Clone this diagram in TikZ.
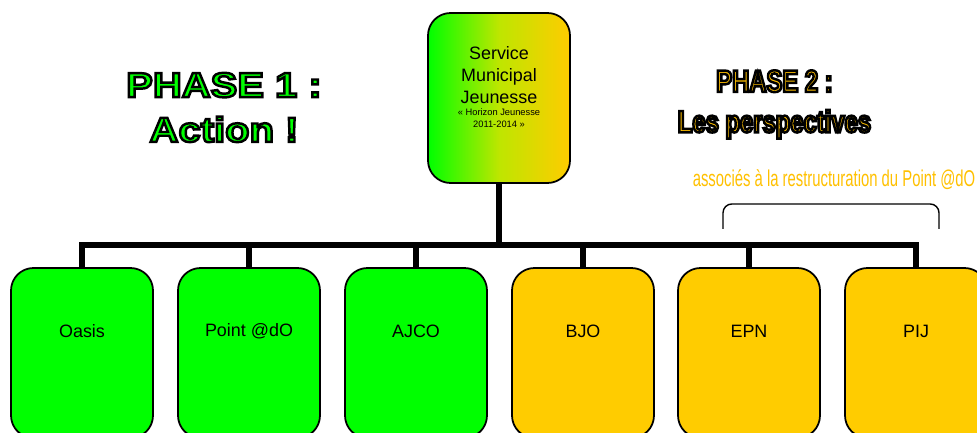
\documentclass[tikz,border=0pt]{standalone}
\usepackage{fontspec}
\usetikzlibrary{positioning}
\setmainfont{Liberation Sans}
\newfontfamily\phaseonefont[FakeStretch=1.15]{Liberation Sans}
\newfontfamily\phasetwofont[FakeStretch=0.77]{Liberation Sans}
\newfontfamily\narrowfont[FakeStretch=0.65]{Liberation Sans}
\definecolor{vert}{RGB}{0,255,0}
\definecolor{jaune}{RGB}{255,204,0}
\definecolor{ocre}{RGB}{255,192,0}
\definecolor{vertjaune}{RGB}{190,230,0}
% texte plein avec contour noir
\newcommand\cerne[2]{\textcolor{#1}{\special{pdf:literal direct 0 0 0 RG 2 Tr 1.4 w}#2\special{pdf:literal direct 0 Tr 1 w}}}

\begin{document}
\begin{tikzpicture}[
	box/.style={draw, line width=1pt, rounded corners=0.45cm, minimum width=2.84cm, minimum height=3.4cm},
	bus/.style={line width=3.4pt},
	lbl/.style={inner sep=0pt, font=\fontsize{10.2}{12}\selectfont},
]
	\clip (0,0) rectangle (19.54,8.66);

	\node[box, left color=vert, right color=jaune, middle color=vertjaune] (svc) at (9.98,6.70) {};
	\node[lbl, align=center, font=\fontsize{10.2}{12.5}\selectfont] (svctxt) at (9.98,7.16) {Service\\Municipal\\Jeunesse};
	\node[lbl, align=center, font=\fontsize{5.3}{6.6}\selectfont, below=1mm of svctxt] (svcsub) {« Horizon Jeunesse\\2011-2014 »};

	\node[box, fill=vert] (oasis) at (1.64,1.60) {};
	\node[box, fill=vert] (pointdo) at (4.98,1.60) {};
	\node[box, fill=vert] (ajco) at (8.32,1.60) {};
	\node[box, fill=jaune] (bjo) at (11.66,1.60) {};
	\node[box, fill=jaune] (epn) at (14.98,1.60) {};
	\node[box, fill=jaune] (pij) at (18.32,1.60) {};

	\node[lbl] (oasislbl) at ([yshift=-1.28cm]oasis.north) {Oasis};
	\node[lbl] (pointdolbl) at ([yshift=-1.28cm]pointdo.north) {Point @dO};
	\node[lbl] (ajcolbl) at ([yshift=-1.28cm]ajco.north) {AJCO};
	\node[lbl] (bjolbl) at ([yshift=-1.28cm]bjo.north) {BJO};
	\node[lbl] (epnlbl) at ([yshift=-1.28cm]epn.north) {EPN};
	\node[lbl] (pijlbl) at ([yshift=-1.28cm]pij.north) {PIJ};

	\draw[bus] (svc.south) -- (svc.south |- 0,3.76) coordinate (hub);
	\draw[bus] (oasis.north) |- (hub) -| (pij.north);
	\draw[bus] (pointdo.north) -- (pointdo.north |- hub);
	\draw[bus] (ajco.north) -- (ajco.north |- hub);
	\draw[bus] (bjo.north) -- (bjo.north |- hub);
	\draw[bus] (epn.north) -- (epn.north |- hub);

	\node[align=center, font=\phaseonefont\bfseries\fontsize{19.8}{25.5}\selectfont] (phaseun) at (4.48,6.51)
		{\cerne{vert}{PHASE 1 :}\\\cerne{vert}{Action !}};
	\node[align=center, font=\phasetwofont\bfseries\fontsize{17.6}{23}\selectfont] (phasedeux) at (15.49,6.57)
		{\cerne{ocre}{PHASE 2 :}\\\cerne{ocre}{Les perspectives}};

	\node[text=ocre, inner sep=0pt, font=\narrowfont\fontsize{13}{15}\selectfont] (assoc) at (16.68,5.06) {associés à la restructuration du Point @dO};
	\coordinate (accL) at (14.46,4.08);
	\coordinate (accR) at (18.78,4.08);
	\draw[line width=0.8pt, rounded corners=5pt] (accL) -- ++(0,0.5) -| (accR);
\end{tikzpicture}
\end{document}
